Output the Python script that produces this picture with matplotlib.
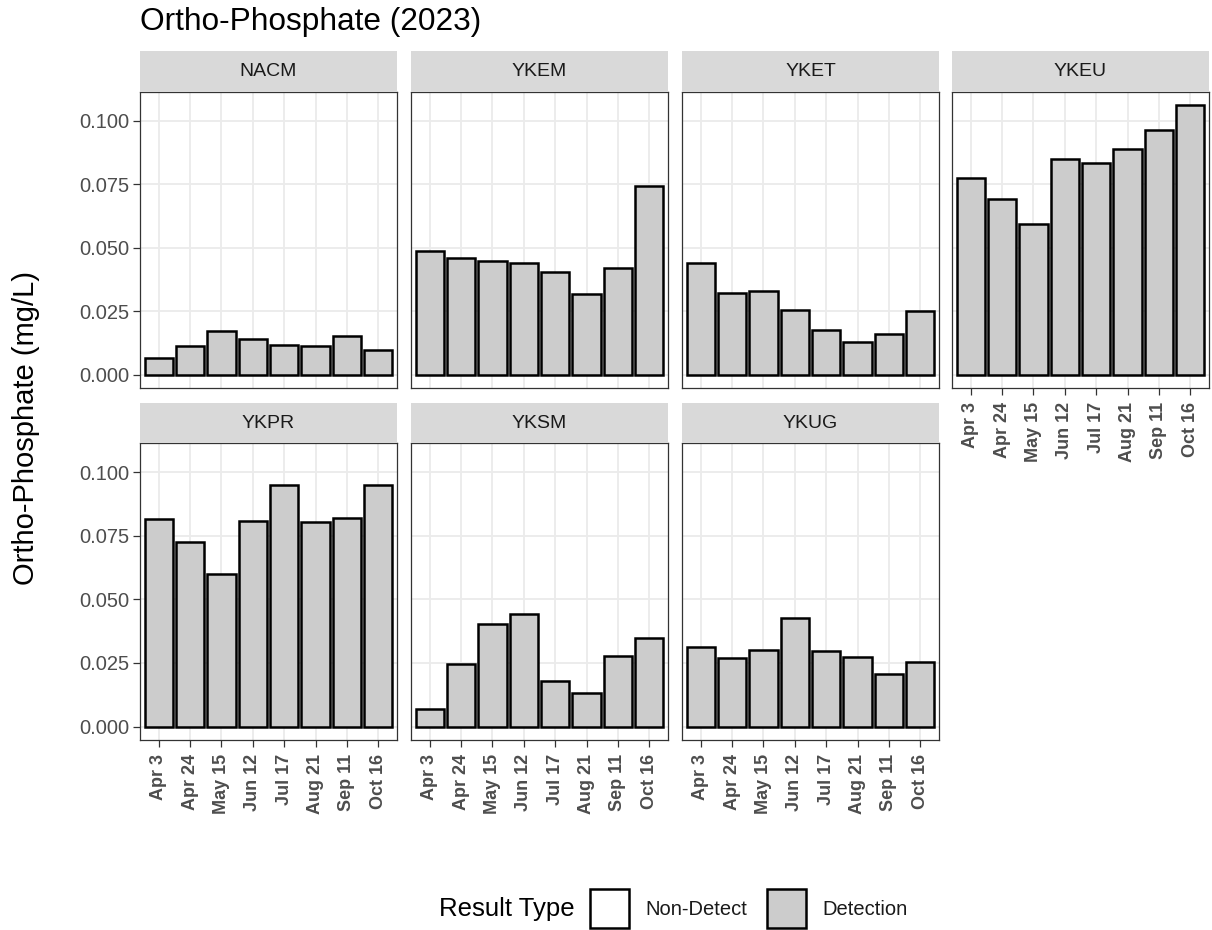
import matplotlib
matplotlib.use("Agg")
import matplotlib.pyplot as plt
from matplotlib.patches import Rectangle

plt.rcParams['font.family'] = ['Liberation Sans', 'DejaVu Sans']

# sampling dates and ortho-phosphate results (mg/L) by site
dates = ["Apr 3", "Apr 24", "May 15", "Jun 12", "Jul 17", "Aug 21", "Sep 11", "Oct 16"]
sites = ["NACM", "YKEM", "YKET", "YKEU", "YKPR", "YKSM", "YKUG"]
nacm = [0.0065, 0.0114, 0.0171, 0.0141, 0.0118, 0.0111, 0.0153, 0.0098]
ykem = [0.0486, 0.0458, 0.0447, 0.0438, 0.0403, 0.0318, 0.0420, 0.0745]
yket = [0.0438, 0.0320, 0.0328, 0.0256, 0.0174, 0.0129, 0.0158, 0.0250]
ykeu = [0.0776, 0.0691, 0.0595, 0.0848, 0.0833, 0.0891, 0.0966, 0.1061]
ykpr = [0.0817, 0.0725, 0.0600, 0.0808, 0.0948, 0.0803, 0.0821, 0.0949]
yksm = [0.0067, 0.0247, 0.0403, 0.0443, 0.0180, 0.0133, 0.0277, 0.0348]
ykug = [0.0313, 0.0269, 0.0299, 0.0426, 0.0297, 0.0273, 0.0207, 0.0252]
values = [nacm, ykem, yket, ykeu, ykpr, yksm, ykug]
result_types = ["Non-Detect", "Detection"]
type_fill = {"Non-Detect": "white", "Detection": "#CCCCCC"}
site_type = ["Detection"] * len(sites)

W, H = 1212, 930
fig = plt.figure(figsize=(W / 100, H / 100), dpi=100)


def rect(l, t, r, b):
    return [l / W, 1 - b / H, (r - l) / W, (b - t) / H]


col_left = [140, 411, 682, 952]
panel_w = 257
rows = [(51, 92, 388), (403, 443, 740)]  # strip top, panel top, panel bottom
yticks = [0.0, 0.025, 0.05, 0.075, 0.1]
ymax = max(max(v) for v in values)
ylim = (-0.05 * ymax, 1.05 * ymax)
n = len(dates)
x = list(range(n))

for i, site in enumerate(sites):
    r, c = divmod(i, 4)
    st, pt, pb = rows[r]
    l = col_left[c]
    ax = fig.add_axes(rect(l, pt, l + panel_w, pb))
    ax.bar(x, values[i], width=0.9, color=type_fill[site_type[i]],
           edgecolor="black", linewidth=1.8, zorder=3)
    ax.set_xlim(-0.6, n - 0.4)
    ax.set_ylim(*ylim)
    ax.set_xticks(x)
    ax.set_yticks(yticks)
    ax.grid(True, color="#EBEBEB", linewidth=1.3, zorder=0)
    ax.set_axisbelow(True)
    for sp in ax.spines.values():
        sp.set_color("#333333")
        sp.set_linewidth(0.9)
    ax.tick_params(colors="#333333", width=0.9, length=4.8,
                   labelcolor="#4D4D4D", labelsize=14.5)
    # y labels on the left column only
    if c == 0:
        ax.set_yticklabels([f"{t:.3f}" for t in yticks])
        ax.tick_params(axis="y", pad=3)
    else:
        ax.tick_params(axis="y", left=False, labelleft=False)
    # x labels on panels with nothing below them
    if r == 1 or c == 3:
        ax.set_xticklabels(dates, rotation=90, fontweight="bold", fontsize=13)
        ax.tick_params(axis="x", pad=5.5)
    else:
        ax.tick_params(axis="x", bottom=False, labelbottom=False)

    sax = fig.add_axes(rect(l, st, l + panel_w, pt))
    sax.set_facecolor("#D9D9D9")
    sax.set_xticks([])
    sax.set_yticks([])
    for sp in sax.spines.values():
        sp.set_visible(False)
    sax.text(0.5, 0.5, site, ha="center", va="center", fontsize=14,
             color="#1A1A1A", transform=sax.transAxes)

fig.text(140 / W, 1 - 30 / H, "Ortho-Phosphate (2023)", fontsize=22.8,
         ha="left", va="baseline")
fig.text(26 / W, 1 - 428 / H, "Ortho-Phosphate (mg/L)", fontsize=21,
         rotation=90, ha="center", va="center")

# legend
ly = 909
fig.text(575 / W, 1 - ly / H, "Result Type", fontsize=18.5, ha="right",
         va="center")
key_x = [590, 767]
for kx, rt in zip(key_x, result_types):
    fig.patches.append(Rectangle((kx / W, 1 - 928 / H), 39 / W, 39 / H,
                                 transform=fig.transFigure,
                                 facecolor=type_fill[rt], edgecolor="black",
                                 linewidth=1.8))
    fig.text((kx + 55) / W, 1 - ly / H, rt, fontsize=14.5, color="#1A1A1A",
             ha="left", va="center")

fig.savefig("out.png", dpi=100)
